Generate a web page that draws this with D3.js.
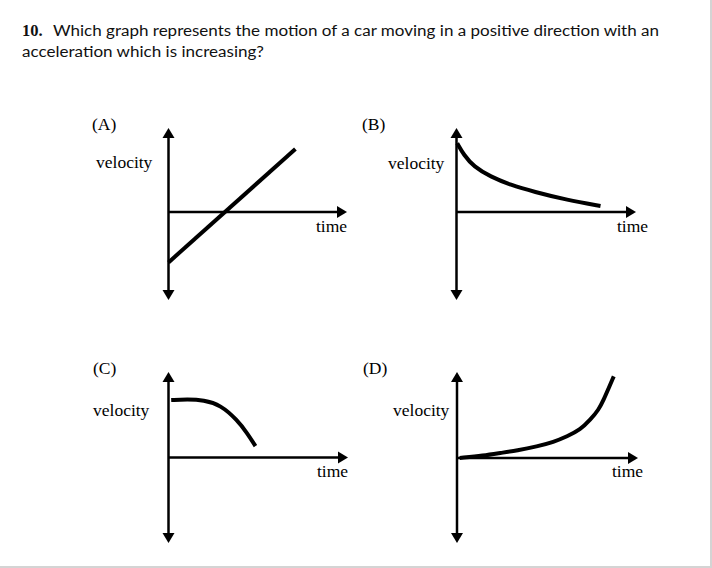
<!DOCTYPE html>
<html>
<head>
<meta charset="utf-8">
<script src="https://cdn.jsdelivr.net/npm/d3@7"></script>
<style>
  html, body { margin: 0; padding: 0; background: #fff; }
  svg { display: block; }
</style>
</head>
<body>
<svg id="chart" width="712" height="568"></svg>
<script>
// ---------- data ----------
const questionNumber = "10.";
const questionLine1 = "Which graph represents the motion of a car moving in a positive direction with an";
const questionLine2 = "acceleration which is increasing?";
const panelLabels = ["(A)", "(B)", "(C)", "(D)"];
const yAxisLabel = "velocity";
const xAxisLabel = "time";
// curves: [time, velocity] in arbitrary units (time 0..10, velocity -5..5)
const curveA = [[0, -3.0], [7.05, 3.75]];
const curveB = [[0.04, 4.09], [0.41, 3.39], [0.96, 2.70], [1.89, 2.10], [3.0, 1.61], [4.29, 1.21], [6.15, 0.71], [8.0, 0.36]];
const curveC = [[0.15, 3.42], [1.04, 3.46], [1.96, 3.42], [2.89, 3.13], [3.82, 2.23], [4.37, 1.45], [4.83, 0.68]];
const curveD = [[0.15, 0.0], [1.48, 0.14], [2.41, 0.30], [3.34, 0.45], [4.45, 0.69], [5.37, 0.95], [6.11, 1.28], [6.85, 1.68], [7.41, 2.28], [7.87, 2.87], [8.15, 3.47], [8.43, 4.17], [8.71, 4.86]];
const curves = [curveA, curveB, curveC, curveD];
const timeDomain = [0, 10];

// ---------- layout ----------
const layout = [
  { ox: 168.5, oy: 212, top: 128, bottom: 300, right: 347, lab: [92, 130], vel: [96, 168], tim: [316, 232] },
  { ox: 456.5, oy: 212, top: 128, bottom: 300, right: 636, lab: [362, 130], vel: [388, 169], tim: [617, 232] },
  { ox: 168.5, oy: 457.5, top: 372, bottom: 543, right: 348, lab: [93, 374], vel: [93, 416], tim: [317, 477] },
  { ox: 457, oy: 458, top: 372, bottom: 543, right: 638, lab: [363, 374], vel: [393, 416], tim: [612, 477] }
];
const PX_PER_T = 18, PX_PER_V = 16.8;

const svg = d3.select("#chart");

// border of the original picture
svg.append("rect").attr("x", 710).attr("y", 0).attr("width", 2).attr("height", 568).attr("fill", "#d4d4d4");
svg.append("rect").attr("x", 0).attr("y", 566).attr("width", 712).attr("height", 2).attr("fill", "#d4d4d4");

// question
svg.append("text").attr("x", 22).attr("y", 36)
  .attr("font-family", "'Liberation Serif', serif").attr("font-weight", "bold").attr("font-size", 16.5)
  .attr("fill", "#111").text(questionNumber);
svg.append("text").attr("x", 53).attr("y", 36)
  .attr("font-family", "Lato, 'Open Sans', sans-serif").attr("font-size", 15.5)
  .attr("fill", "#111").attr("textLength", 606).attr("lengthAdjust", "spacingAndGlyphs").text(questionLine1);
svg.append("text").attr("x", 22).attr("y", 57)
  .attr("font-family", "Lato, 'Open Sans', sans-serif").attr("font-size", 15.5)
  .attr("fill", "#111").attr("textLength", 242).attr("lengthAdjust", "spacingAndGlyphs").text(questionLine2);

const serif = "'Liberation Serif', 'Times New Roman', serif";

layout.forEach((L, i) => {
  const x = d3.scaleLinear().domain(timeDomain).range([L.ox, L.ox + (timeDomain[1] - timeDomain[0]) * PX_PER_T]);
  const y = d3.scaleLinear().domain([0, 1]).range([L.oy, L.oy - PX_PER_V]);
  const g = svg.append("g");

  // axes
  g.append("line").attr("x1", L.ox).attr("x2", L.ox).attr("y1", L.top + 6).attr("y2", L.bottom - 6)
    .attr("stroke", "#000").attr("stroke-width", 2.5);
  g.append("line").attr("x1", L.ox).attr("x2", L.right - 6).attr("y1", L.oy).attr("y2", L.oy)
    .attr("stroke", "#000").attr("stroke-width", 2.5);
  const ah = 10, aw = 6;
  g.append("path").attr("d", `M${L.ox},${L.top} L${L.ox - aw},${L.top + ah} L${L.ox + aw},${L.top + ah} Z`).attr("fill", "#000");
  g.append("path").attr("d", `M${L.ox},${L.bottom} L${L.ox - aw},${L.bottom - ah} L${L.ox + aw},${L.bottom - ah} Z`).attr("fill", "#000");
  g.append("path").attr("d", `M${L.right},${L.oy} L${L.right - ah},${L.oy - aw} L${L.right - ah},${L.oy + aw} Z`).attr("fill", "#000");

  // curve
  const line = d3.line().x(d => x(d[0])).y(d => y(d[1])).curve(d3.curveBasis);
  g.append("path").datum(curves[i]).attr("d", line)
    .attr("fill", "none").attr("stroke", "#000").attr("stroke-width", 4).attr("stroke-linecap", "butt");

  // labels
  g.append("text").attr("x", L.lab[0]).attr("y", L.lab[1]).attr("font-family", serif).attr("font-size", 17.5).text(panelLabels[i]);
  g.append("text").attr("x", L.vel[0]).attr("y", L.vel[1]).attr("font-family", serif).attr("font-size", 17.5).text(yAxisLabel);
  g.append("text").attr("x", L.tim[0]).attr("y", L.tim[1]).attr("font-family", serif).attr("font-size", 17.5).text(xAxisLabel);
});
</script>
</body>
</html>
